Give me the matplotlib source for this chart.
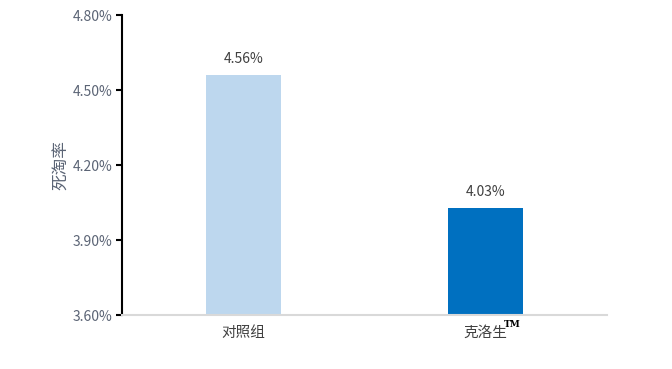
import matplotlib
matplotlib.use("Agg")
import matplotlib.pyplot as plt
from matplotlib.ticker import FuncFormatter

plt.rcParams["font.family"] = ["Noto Sans CJK SC", "DejaVu Sans"]

# data
categories = ["对照组", "克洛生"]
rates = [4.56, 4.03]
bar_colors = ["#bdd7ee", "#0070c0"]
y_ticks = [3.60, 3.90, 4.20, 4.50, 4.80]

fig = plt.figure(figsize=(6.72, 3.69), dpi=100)
ax = fig.add_axes([0.1815, 0.1463, 0.7218, 0.813])

x = range(len(categories))
ax.bar(x, rates, width=0.31, color=bar_colors, zorder=2)

for xi, v in zip(x, rates):
    ax.text(xi, v + 0.035, f"{v:.2f}%", ha="center", va="bottom",
            fontsize=10, color="#404040")

ax.set_xlim(-0.5, 1.5)
ax.set_ylim(3.60, 4.80)
ax.set_yticks(y_ticks)
ax.yaxis.set_major_formatter(FuncFormatter(lambda v, _: f"{v:.2f}%"))
ax.set_xticks(list(x))
ax.set_xticklabels(categories)

ax.tick_params(axis="y", direction="out", length=4, width=1.5, color="black",
               labelsize=10, labelcolor="#5b6475", pad=3)
ax.tick_params(axis="x", length=0, labelsize=10.5, labelcolor="#404040", pad=8)

for side in ("top", "right"):
    ax.spines[side].set_visible(False)
ax.spines["left"].set_color("black")
ax.spines["left"].set_linewidth(1.5)
ax.spines["bottom"].set_color("#d9d9d9")
ax.spines["bottom"].set_linewidth(1.5)

ax.set_ylabel("死淘率", fontsize=12, color="#5b6475", labelpad=2)

# trademark mark next to the second category label
ax.annotate("TM", xy=(1, 3.60), xycoords="data", xytext=(13, -7),
            textcoords="offset points", fontsize=6.5, family="DejaVu Serif",
            fontweight="bold", color="black", ha="left", va="center")

fig.savefig("out.png", dpi=100)
